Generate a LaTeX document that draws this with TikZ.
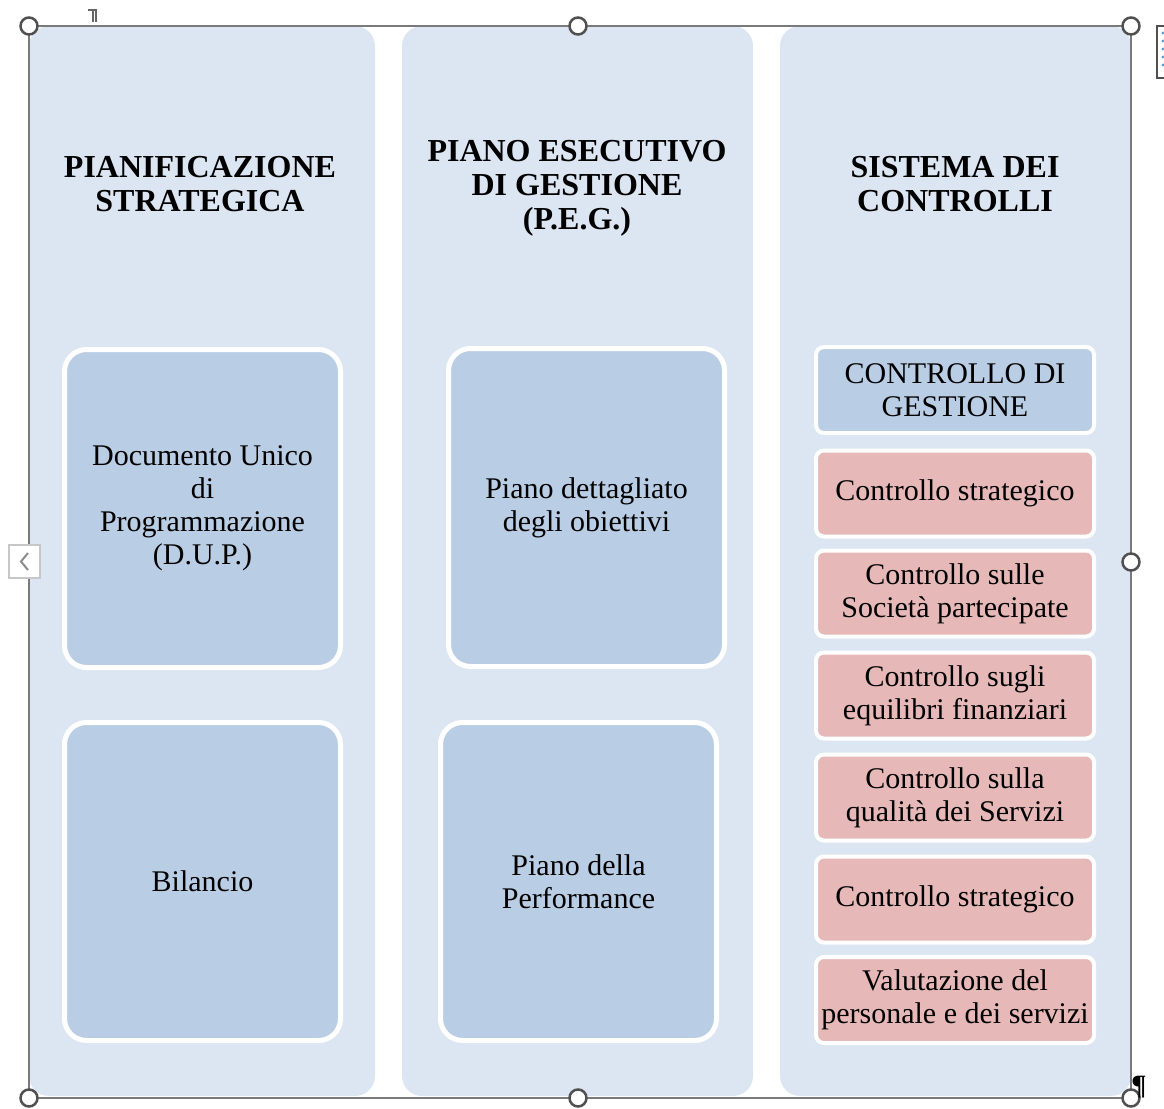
\documentclass[tikz,border=0pt]{standalone}
\usepackage{fontspec}
\setmainfont{Liberation Serif}
\definecolor{colbg}{HTML}{DCE6F2}
\definecolor{boxblue}{HTML}{B9CDE5}
\definecolor{boxpink}{HTML}{E6B9B8}
\definecolor{framegray}{HTML}{7A7A7A}
\definecolor{handlegray}{HTML}{505050}
\definecolor{dotblue}{HTML}{4FA3DC}
\begin{document}
\begin{tikzpicture}[x=1pt,y=-1pt,
  colbox/.style={fill=colbg, draw=none, rounded corners=20pt},
  bigbox/.style={draw=white, line width=5pt, fill=boxblue, rounded corners=22pt,
    minimum width=276pt, minimum height=318pt, inner sep=2pt, align=center,
    font=\fontsize{30}{33}\selectfont},
  smallbox/.style={draw=white, line width=4pt, rounded corners=8pt,
    minimum width=278pt, minimum height=86pt, inner sep=1pt, align=center,
    font=\fontsize{30}{33}\selectfont},
  hdr/.style={align=center, inner sep=0pt, font=\fontsize{32}{34}\selectfont\bfseries},
  handle/.style={circle, draw=handlegray, fill=white, line width=2.5pt, minimum size=17pt, inner sep=0pt}
]
\useasboundingbox (0,0) rectangle (1164,1108);
% columns
\fill[colbox] (29,26) rectangle (375,1096);
\fill[colbox] (402,26) rectangle (753,1096);
\fill[colbox] (780,26) rectangle (1131,1096);
% headers
\node[hdr] (h1) at (200,184) {PIANIFICAZIONE\\STRATEGICA};
\node[hdr] (h2) at (577,188) {PIANO ESECUTIVO\\DI GESTIONE\\(P.E.G.)};
\node[hdr] (h3) at (955,184) {SISTEMA DEI\\CONTROLLI};
% column 1
\node[bigbox] (dup) at (202.5,508.5) {Documento Unico\\di\\Programmazione\\(D.U.P.)};
\node[bigbox] (bil) at (202.5,881.5) {Bilancio};
% column 2
\node[bigbox] (pdo) at (586.5,507.5) {Piano dettagliato\\degli obiettivi};
\node[bigbox] (perf) at (578.5,881.5) {Piano della\\Performance};
% column 3
\node[smallbox, fill=boxblue] (cdg) at (955,390) {CONTROLLO DI\\GESTIONE};
\node[smallbox, fill=boxpink] (cs1) at (955,493.5) {Controllo strategico};
\node[smallbox, fill=boxpink] (csp) at (955,593.5) {Controllo sulle\\Società partecipate};
\node[smallbox, fill=boxpink] (cef) at (955,695.5) {Controllo sugli\\equilibri finanziari};
\node[smallbox, fill=boxpink] (cqs) at (955,797.5) {Controllo sulla\\qualità dei Servizi};
\node[smallbox, fill=boxpink] (cs2) at (955,899.5) {Controllo strategico};
\node[smallbox, fill=boxpink] (vps) at (955,1000) {Valutazione del\\personale e dei servizi};
% selection frame
\draw[framegray, line width=1.5pt] (29,26) rectangle (1131,1098);
\node[handle] (htl) at (29,26) {};
\node[handle] (htm) at (578,26) {};
\node[handle] (htr) at (1131,26) {};
\node[handle] (hmr) at (1131,562) {};
\node[handle] (hbr) at (1131,1098) {};
\node[handle] (hbm) at (578,1098) {};
\node[handle] (hbl) at (29,1098) {};
% left collapse button
\draw[fill=white, draw=black!22, line width=1.2pt] (9,545) rectangle (40,578);
\draw[black!45, line width=2pt] (28,553) -- (21,561.5) -- (28,570);
% top-right layout icon
\draw[fill=white, draw=handlegray, line width=1.5pt] (1157,26) rectangle (1172,78);
\foreach \yy in {33,41,49,57,65} \fill[dotblue] (1163,\yy) circle (1.6pt);
% anchor mark
\draw[black!60, line width=1.2pt] (88,10) -- (97,10);
\draw[black!60, line width=1.2pt] (93,10) -- (93,22);
\draw[black!60, line width=1.2pt] (96,10) -- (96,22);
% paragraph mark
\node[inner sep=0pt, font=\fontsize{28}{28}\selectfont\bfseries] (pm) at (1139,1087) {¶};
\end{tikzpicture}
\end{document}
